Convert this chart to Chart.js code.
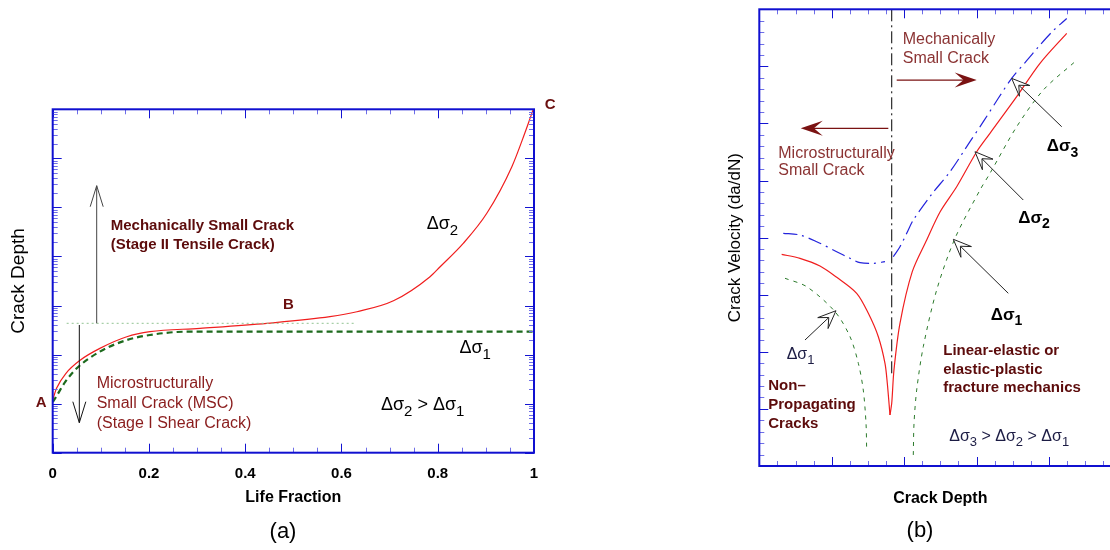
<!DOCTYPE html>
<html>
<head>
<meta charset="utf-8">
<script src="https://cdn.jsdelivr.net/npm/chart.js@4.4.1/dist/chart.umd.min.js"></script>
<style>
html, body { margin: 0; padding: 0; width: 1110px; height: 550px; overflow: hidden; background: #fff; }
#chartA { position: absolute; left: 0; top: 0; }
#chartB { position: absolute; left: 700px; top: 0; }
.cap { position: absolute; font: 22px "Liberation Sans", Arial, sans-serif; color: #000; transform: translate(-50%, -50%); }
</style>
</head>
<body>
<canvas id="chartA" width="560" height="550"></canvas>
<canvas id="chartB" width="440" height="550"></canvas>
<div class="cap" style="left:283px;top:531px">(a)</div>
<div class="cap" style="left:920px;top:530px">(b)</div>
<script>
// ---- panel (a): crack depth vs life fraction (log depth axis)
const lifeTicks = [0, 0.2, 0.4, 0.6, 0.8, 1];

const lifeS2 = [0, 0.008, 0.028, 0.057, 0.098, 0.154, 0.202, 0.306, 0.445, 0.576, 0.632, 0.708, 0.784, 0.805, 0.853, 0.902, 0.954, 0.981, 0.992, 0.998];
const depthS2 = [11.9, 20.5, 42, 77, 134, 231, 293, 343, 434, 592, 748, 1250, 3870, 6180, 18500, 75900, 676000, 3.29e6, 6.6e6, 9.7e6];

const lifeS1 = [0, 0.005, 0.026, 0.05, 0.098, 0.154, 0.202, 0.278, 0.45, 0.7, 1];
const depthS1 = [10.8, 12.8, 27.7, 52.5, 115, 198, 251, 293, 293, 293, 293];

const lifeMSC = [0.029, 0.628];
const depthMSC = [434, 434];

// ---- panel (b): crack velocity vs crack depth
const depS3L = [0.331, 0.562, 0.793, 1.069, 1.253, 1.391, 1.575, 1.736];
const velS3L = [4.076, 4.046, 3.929, 3.754, 3.638, 3.561, 3.550, 3.579];
const depS3R = [1.851, 1.943, 2.036, 2.127, 2.381, 2.634, 2.910, 3.094, 3.301, 3.486, 3.693, 3.854, 4.039, 4.246];
const velS3R = [3.666, 3.841, 4.076, 4.309, 4.760, 5.155, 5.681, 6.031, 6.441, 6.791, 7.100, 7.340, 7.600, 7.840];

const depS2L = [0.309, 0.562, 0.838, 1.069, 1.345, 1.506, 1.644, 1.736, 1.768, 1.805];
const velS2L = [3.708, 3.638, 3.503, 3.305, 3.025, 2.675, 2.265, 1.799, 1.449, 0.893];
const depS2R = [1.805, 1.829, 1.860, 1.943, 2.113, 2.312, 2.496, 2.726, 3.003, 3.186, 3.555, 3.877, 4.246];
const velS2R = [0.893, 1.098, 1.682, 2.500, 3.404, 3.959, 4.450, 4.892, 5.505, 5.827, 6.469, 7.054, 7.579];

const depS1L = [0.355, 0.655, 1.046, 1.253, 1.368, 1.436, 1.474, 1.483];
const velS1L = [3.288, 3.141, 2.703, 2.265, 1.799, 1.331, 0.748, 0.280];
const depS1R = [2.127, 2.137, 2.174, 2.265, 2.450, 2.703, 3.048, 3.186, 3.555, 3.923, 4.360];
const velS1R = [0.193, 0.748, 1.331, 2.090, 3.083, 3.988, 4.834, 5.127, 5.943, 6.586, 7.082];

const depBoundary = [1.829, 1.829];
const velBoundary = [8, 1.6];

const SANS = '"Liberation Sans", Arial, sans-serif';
Chart.defaults.font.family = SANS;
Chart.defaults.color = '#000';

function pts(xs, ys) {
    return xs.map((x, i) => ({ x: x, y: ys[i] }));
}

function drawNote(ctx, x, y, n) {
    const fam = n.family || SANS;
    const f = sub => `${n.weight || 'normal'} ${sub ? Math.round(n.size * 0.82) : n.size}px ${fam}`;
    ctx.textBaseline = 'middle';
    ctx.textAlign = 'left';
    ctx.fillStyle = n.color || '#000';
    n.lines.forEach((line, k) => {
        const segs = line.split(/_(\d)/);
        let w = 0;
        segs.forEach((s, i) => { ctx.font = f(i % 2); w += ctx.measureText(s).width; });
        let cx = n.align === 'center' ? x - w / 2 : x;
        const ly = y + k * (n.lh || 0);
        segs.forEach((s, i) => {
            ctx.font = f(i % 2);
            ctx.fillText(s, cx, ly + (i % 2 ? n.size * 0.36 : 0));
            cx += ctx.measureText(s).width;
        });
    });
}

function unit(x1, y1, x2, y2) {
    const len = Math.hypot(x2 - x1, y2 - y1);
    return [(x2 - x1) / len, (y2 - y1) / len];
}

// thin shaft, open V head
function openArrow(ctx, x1, y1, x2, y2, color) {
    const [dx, dy] = unit(x1, y1, x2, y2);
    const L = 21, W = 6.5;
    ctx.strokeStyle = color;
    ctx.lineWidth = 1;
    ctx.beginPath();
    ctx.moveTo(x1, y1); ctx.lineTo(x2, y2);
    ctx.moveTo(x2 - L * dx + W * dy, y2 - L * dy - W * dx);
    ctx.lineTo(x2, y2);
    ctx.lineTo(x2 - L * dx - W * dy, y2 - L * dy + W * dx);
    ctx.stroke();
}

// filled dart head
function dartArrow(ctx, x1, y1, x2, y2, color) {
    const [dx, dy] = unit(x1, y1, x2, y2);
    const L = 22, W = 7.5;
    ctx.strokeStyle = color;
    ctx.fillStyle = color;
    ctx.lineWidth = 1.3;
    ctx.beginPath();
    ctx.moveTo(x1, y1); ctx.lineTo(x2 - 10 * dx, y2 - 10 * dy);
    ctx.stroke();
    ctx.beginPath();
    ctx.moveTo(x2, y2);
    ctx.lineTo(x2 - L * dx + W * dy, y2 - L * dy - W * dx);
    ctx.lineTo(x2 - 0.6 * L * dx, y2 - 0.6 * L * dy);
    ctx.lineTo(x2 - L * dx - W * dy, y2 - L * dy + W * dx);
    ctx.closePath();
    ctx.fill();
}

// hollow notched head pointing at a curve
function hollowArrow(ctx, x1, y1, x2, y2) {
    const [dx, dy] = unit(x1, y1, x2, y2);
    const L = 18, W = 7.5;
    const nx = x2 - 0.55 * L * dx, ny = y2 - 0.55 * L * dy;
    ctx.strokeStyle = '#222';
    ctx.lineWidth = 1;
    ctx.beginPath();
    ctx.moveTo(x1, y1); ctx.lineTo(nx, ny);
    ctx.stroke();
    ctx.beginPath();
    ctx.moveTo(x2, y2);
    ctx.lineTo(x2 - L * dx + W * dy, y2 - L * dy - W * dx);
    ctx.lineTo(nx, ny);
    ctx.lineTo(x2 - L * dx - W * dy, y2 - L * dy + W * dx);
    ctx.closePath();
    ctx.fillStyle = '#fff';
    ctx.fill();
    ctx.stroke();
}

function tick(ctx, x1, y1, x2, y2) {
    ctx.beginPath();
    ctx.moveTo(x1, y1);
    ctx.lineTo(x2, y2);
    ctx.stroke();
}

// blue frame with inward ticks on every side
function drawFrame(chart, xt, yt) {
    const { ctx, chartArea: a } = chart;
    const sx = chart.scales.x, sy = chart.scales.y;
    ctx.save();
    ctx.lineWidth = 1;
    xt.forEach(t => {
        const p = Math.round(sx.getPixelForValue(t.v)) + 0.5;
        const len = t.major ? 9 : 5;
        ctx.strokeStyle = t.major ? '#1414d2' : '#6e6ee8';
        tick(ctx, p, a.bottom, p, a.bottom - len);
        tick(ctx, p, a.top, p, a.top + len);
    });
    yt.forEach(t => {
        const p = Math.round(sy.getPixelForValue(t.v)) + 0.5;
        const len = t.major ? 9 : 5;
        ctx.strokeStyle = t.major ? '#1414d2' : '#6e6ee8';
        tick(ctx, a.left, p, a.left + len, p);
        tick(ctx, a.right, p, a.right - len, p);
    });
    ctx.strokeStyle = '#1010d0';
    ctx.lineWidth = 2;
    ctx.strokeRect(a.left, a.top, a.right - a.left, a.bottom - a.top);
    ctx.restore();
}

// ----- annotations, placed in data coordinates
const notesA = [
    { x: -0.024, y: 10.5, lines: ['A'], size: 15, weight: 'bold', color: '#6b0f0f', align: 'center' },
    { x: 0.4895, y: 1025, lines: ['B'], size: 15, weight: 'bold', color: '#6b0f0f', align: 'center' },
    { x: 1.0335, y: 1.22e7, lines: ['C'], size: 15, weight: 'bold', color: '#6b0f0f', align: 'center' },
    { x: 0.777, y: 45900, lines: ['Δσ_2'], size: 18 },
    { x: 0.845, y: 134, lines: ['Δσ_1'], size: 18 },
    { x: 0.682, y: 9.4, lines: ['Δσ_2 > Δσ_1'], size: 18 },
    { x: 0.1205, y: 42400, lines: ['Mechanically Small Crack', '(Stage II Tensile Crack)'], lh: 19.5, size: 15, weight: 'bold', color: '#5c0b0b' },
    { x: 0.0914, y: 26, lines: ['Microstructurally', 'Small Crack (MSC)', '(Stage I Shear Crack)'], lh: 20.3, size: 16, color: '#8a1c1c' }
];
const arrowsA = [
    { from: [0.0914, 434], to: [0.0914, 277000], color: '#444' },
    { from: [0.0553, 401], to: [0.0553, 4.09], color: '#111' }
];

const notesB = [
    { x: 1.981, y: 7.474, lines: ['Mechanically', 'Small Crack'], lh: 19, size: 16, color: '#8b3333' },
    { x: 0.262, y: 5.477, lines: ['Microstructurally', 'Small Crack'], lh: 17.5, size: 16, color: '#8b3333' },
    { x: 3.970, y: 5.593, lines: ['Δσ_3'], size: 17, weight: 'bold' },
    { x: 3.577, y: 4.339, lines: ['Δσ_2'], size: 17, weight: 'bold' },
    { x: 3.196, y: 2.645, lines: ['Δσ_1'], size: 17, weight: 'bold' },
    { x: 0.378, y: 1.944, lines: ['Δσ_1'], size: 16, color: '#1c1c44' },
    { x: 2.541, y: 2.020, lines: ['Linear-elastic or', 'elastic-plastic', 'fracture mechanics'], lh: 18.8, size: 15, weight: 'bold', color: '#5c0b0b' },
    { x: 0.124, y: 1.401, lines: ['Non\u2013', 'Propagating', 'Cracks'], lh: 18.7, size: 15, weight: 'bold', color: '#5c0b0b' },
    { x: 2.624, y: 0.513, lines: ['Δσ_3 > Δσ_2 > Δσ_1'], size: 16, color: '#1c1c44' }
];
const dartsB = [
    { from: [1.898, 6.761], to: [3.003, 6.761] },
    { from: [1.782, 5.915], to: [0.572, 5.915] }
];
const pointersB = [
    { from: [4.177, 5.943], to: [3.486, 6.790] },
    { from: [3.646, 4.659], to: [2.979, 5.505] },
    { from: [3.439, 3.025], to: [2.680, 3.971] },
    { from: [0.631, 2.207], to: [1.059, 2.720] }
];

function xy(chart, p) {
    return [chart.scales.x.getPixelForValue(p[0]), chart.scales.y.getPixelForValue(p[1])];
}

const decoA = {
    id: 'decoA',
    afterDatasetsDraw(chart) {
        const xt = [], yt = [];
        for (let i = 0; i <= 20; i++) xt.push({ v: i * 0.05, major: i % 4 === 0 });
        for (let d = 0; d < 7; d++) {
            for (let m = 1; m < 10; m++) yt.push({ v: m * Math.pow(10, d), major: m === 1 });
        }
        yt.push({ v: 1e7, major: true });
        drawFrame(chart, xt, yt);
        const ctx = chart.ctx;
        ctx.save();
        arrowsA.forEach(a => {
            const [x1, y1] = xy(chart, a.from), [x2, y2] = xy(chart, a.to);
            openArrow(ctx, x1, y1, x2, y2, a.color);
        });
        notesA.forEach(n => {
            const [x, y] = xy(chart, [n.x, n.y]);
            drawNote(ctx, x, y, n);
        });
        ctx.restore();
    }
};

const decoB = {
    id: 'decoB',
    afterDatasetsDraw(chart) {
        const xt = [], yt = [];
        for (let i = 0; i <= 20; i++) xt.push({ v: i * 0.25, major: i % 4 === 0 });
        for (let i = 0; i <= 40; i++) yt.push({ v: i * 0.2, major: i % 5 === 0 });
        drawFrame(chart, xt, yt);
        const ctx = chart.ctx;
        ctx.save();
        dartsB.forEach(a => {
            const [x1, y1] = xy(chart, a.from), [x2, y2] = xy(chart, a.to);
            dartArrow(ctx, x1, y1, x2, y2, '#7a1212');
        });
        pointersB.forEach(a => {
            const [x1, y1] = xy(chart, a.from), [x2, y2] = xy(chart, a.to);
            hollowArrow(ctx, x1, y1, x2, y2);
        });
        notesB.forEach(n => {
            const [x, y] = xy(chart, [n.x, n.y]);
            drawNote(ctx, x, y, n);
        });
        ctx.restore();
    }
};

const quiet = {
    legend: { display: false },
    tooltip: { enabled: false }
};

new Chart(document.getElementById('chartA'), {
    type: 'line',
    data: {
        datasets: [
            { data: pts(lifeMSC, depthMSC), borderColor: '#93c493', borderWidth: 1, borderDash: [2, 3], pointRadius: 0 },
            { data: pts(lifeS1, depthS1), borderColor: '#1d6a1d', borderWidth: 2.2, borderDash: [6, 4], pointRadius: 0, cubicInterpolationMode: 'monotone' },
            { data: pts(lifeS2, depthS2), borderColor: '#f01e1e', borderWidth: 1.2, pointRadius: 0, cubicInterpolationMode: 'monotone' }
        ]
    },
    options: {
        responsive: false,
        animation: false,
        layout: { padding: { left: 7.6, top: 109.3, right: 26, bottom: 42.4 } },
        plugins: quiet,
        scales: {
            x: {
                type: 'linear', min: 0, max: 1,
                grid: { display: false, drawTicks: false },
                border: { display: false },
                afterBuildTicks: s => { s.ticks = lifeTicks.map(v => ({ value: v })); },
                afterFit: s => { s.height = 54.9; },
                ticks: { font: { size: 15, weight: 'bold' }, color: '#000', padding: 12, maxRotation: 0, callback: v => String(v) },
                title: { display: true, text: 'Life Fraction', font: { size: 16, weight: 'bold' }, color: '#000', padding: 0 }
            },
            y: {
                type: 'logarithmic', min: 1, max: 1e7,
                grid: { display: false, drawTicks: false },
                border: { display: false },
                ticks: { display: false },
                afterFit: s => { s.width = 45.1; },
                title: { display: true, text: 'Crack Depth', font: { size: 19 }, color: '#000', padding: 0 }
            }
        }
    },
    plugins: [decoA]
});

const dashedGreen = { borderColor: '#2b7a2b', borderWidth: 1, borderDash: [4, 5], pointRadius: 0, tension: 0.3 };
const dashDotBlue = { borderColor: '#2323dc', borderWidth: 1.2, borderDash: [14, 5, 2, 5], pointRadius: 0, tension: 0.3 };
const solidRed = { borderColor: '#f01e1e', borderWidth: 1.2, pointRadius: 0, tension: 0.3 };

new Chart(document.getElementById('chartB'), {
    type: 'line',
    data: {
        datasets: [
            Object.assign({ data: pts(depS1L, velS1L) }, dashedGreen),
            Object.assign({ data: pts(depS1R, velS1R) }, dashedGreen),
            Object.assign({ data: pts(depS3L, velS3L) }, dashDotBlue),
            Object.assign({ data: pts(depS3R, velS3R) }, dashDotBlue),
            Object.assign({ data: pts(depS2L, velS2L) }, solidRed),
            Object.assign({ data: pts(depS2R, velS2R) }, solidRed),
            { data: pts(depBoundary, velBoundary), borderColor: '#000', borderWidth: 1, borderDash: [12, 4, 2, 4], pointRadius: 0 }
        ]
    },
    options: {
        responsive: false,
        animation: false,
        layout: { padding: { left: 24.8, top: 9.3, right: 18.7, bottom: 42.1 } },
        plugins: quiet,
        scales: {
            x: {
                type: 'linear', min: 0, max: 5,
                grid: { display: false, drawTicks: false },
                border: { display: false },
                ticks: { display: false },
                afterFit: s => { s.height = 41.9; },
                title: { display: true, text: 'Crack Depth', font: { size: 16, weight: 'bold' }, color: '#000', padding: 0 }
            },
            y: {
                type: 'linear', min: 0, max: 8,
                grid: { display: false, drawTicks: false },
                border: { display: false },
                ticks: { display: false },
                afterFit: s => { s.width = 34.5; },
                title: { display: true, text: 'Crack Velocity (da/dN)', font: { size: 17 }, color: '#000', padding: 0 }
            }
        }
    },
    plugins: [decoB]
});
</script>
</body>
</html>
